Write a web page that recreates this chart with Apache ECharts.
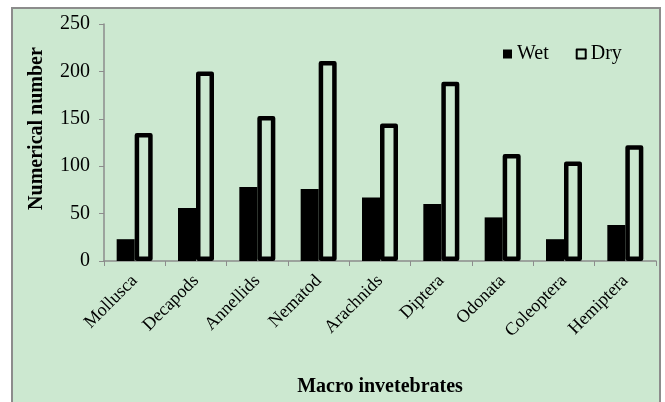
<!DOCTYPE html>
<html>
<head>
<meta charset="utf-8">
<script src="https://cdn.jsdelivr.net/npm/echarts@6/dist/echarts.min.js"></script>
<style>html,body{margin:0;padding:0;background:#fff;}#c{width:665px;height:402px;}</style>
</head>
<body>
<div id="c"></div>
<script>
const categories = ['Mollusca','Decapods','Annellids','Nematod','Arachnids','Diptera','Odonata','Coleoptera','Hemiptera'];
const wetValues = [23, 56, 78, 76, 67, 60, 46, 23, 38];
const dryValues = [135, 200, 153, 211, 145, 189, 113, 105, 122];
const yTicks = [0, 50, 100, 150, 200, 250];

const font = '"Liberation Serif", "Times New Roman", serif';
const bg = '#cce8d0';
const chart = echarts.init(document.getElementById('c'), null, {renderer: 'canvas'});
chart.setOption({
  backgroundColor: '#ffffff',
  animation: false,
  textStyle: {fontFamily: font},
  graphic: [{
    type: 'rect', z: -10, silent: true,
    shape: {x: 12, y: 8, width: 648, height: 400},
    style: {fill: bg, stroke: '#8c8c8c', lineWidth: 2}
  }],
  legend: {
    left: 503, top: 44, padding: 0,
    itemWidth: 9, itemHeight: 9, itemGap: 27,
    textStyle: {fontFamily: font, fontSize: 20, color: '#000'},
    data: [
      {name: 'Wet', icon: 'rect', itemStyle: {color: '#000', borderWidth: 0}},
      {name: 'Dry', icon: 'rect', itemStyle: {color: bg, borderColor: '#000', borderWidth: 2}}
    ]
  },
  grid: {left: 104, right: 9, top: 24, bottom: 132, containLabel: false},
  xAxis: {
    type: 'category',
    data: categories,
    name: 'Macro invetebrates',
    nameLocation: 'middle',
    nameGap: 116,
    nameTextStyle: {fontFamily: font, fontSize: 20, fontWeight: 'bold', color: '#000'},
    axisLine: {lineStyle: {color: '#8c8c8c', width: 1.5}},
    axisTick: {show: true, length: 5, lineStyle: {color: '#8c8c8c'}},
    axisLabel: {rotate: 45, fontFamily: font, fontSize: 18, color: '#000', margin: 17}
  },
  yAxis: {
    type: 'value',
    min: 0, max: 250, interval: 50,
    name: 'Numerical number',
    nameLocation: 'middle',
    nameGap: 57,
    nameTextStyle: {fontFamily: font, fontSize: 20, fontWeight: 'bold', color: '#000', padding: [0, 0, 0, 28]},
    axisLine: {show: true, lineStyle: {color: '#8c8c8c', width: 1.5}},
    axisTick: {show: true, length: 5, lineStyle: {color: '#8c8c8c'}},
    splitLine: {show: false},
    axisLabel: {fontFamily: font, fontSize: 20, color: '#000', margin: 14,
      formatter: v => yTicks.includes(v) ? String(v) : ''}
  },
  series: [
    {name: 'Wet', type: 'bar', data: wetValues, barWidth: 18, barGap: '0%',
     itemStyle: {color: '#000'}},
    {name: 'Dry', type: 'bar', data: dryValues, barWidth: 18,
     itemStyle: {color: bg, borderColor: '#000', borderWidth: 4.5, borderJoin: 'round'}}
  ]
});
</script>
</body>
</html>
